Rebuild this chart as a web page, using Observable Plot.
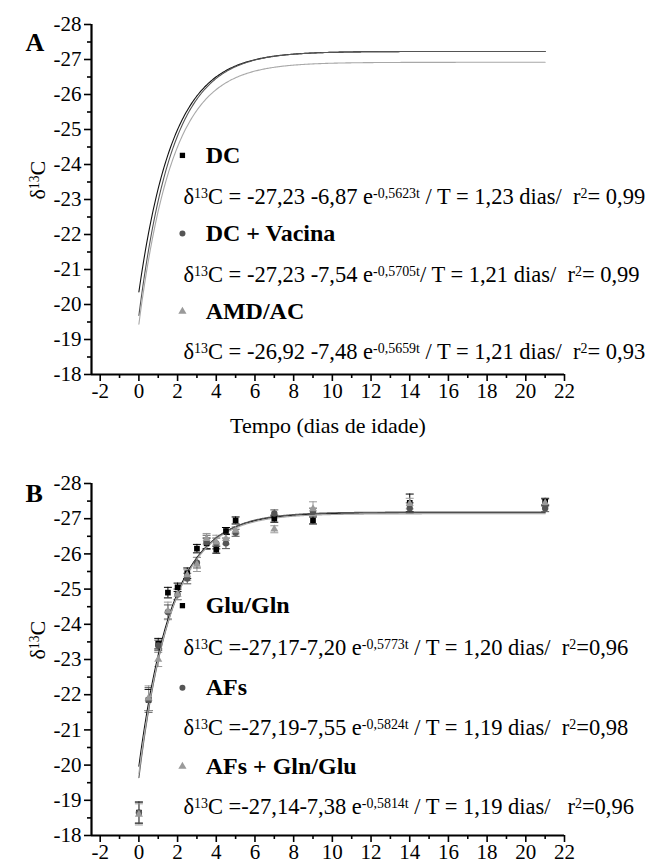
<!DOCTYPE html>
<html>
<head>
<meta charset="utf-8">
<script src="https://cdn.jsdelivr.net/npm/d3@7"></script>
<script src="https://cdn.jsdelivr.net/npm/@observablehq/plot@0.6"></script>
<style>
  html, body { margin: 0; padding: 0; background: #fff; }
  #chart { width: 661px; }
  svg text { white-space: pre; }
</style>
</head>
<body>
<div id="chart"></div>
<script>
// ---------- shared axis data ----------
const xDomain = [-2.45, 22];
const yDomain = [-18, -28];
const xMajor = [-2, 0, 2, 4, 6, 8, 10, 12, 14, 16, 18, 20, 22];
const xMinor = [-1, 1, 3, 5, 7, 9, 11, 13, 15, 17, 19, 21];
const yMajor = [-28, -27, -26, -25, -24, -23, -22, -21, -20, -19, -18];
const yMinor = [-27.5, -26.5, -25.5, -24.5, -23.5, -22.5, -21.5, -20.5, -19.5, -18.5];

// ---------- panel A: fitted curves ----------
const seriesA = ["DC", "DC + Vacina", "AMD/AC"];
const asymA = [-27.23, -27.23, -26.92];
const ampA = [6.87, 7.54, 7.48];
const rateA = [0.5623, 0.5705, 0.5659];
const eqA = [
  "δ^{13}C = -27,23 -6,87 e^{-0,5623t} / T = 1,23 dias/  r^{2}= 0,99",
  "δ^{13}C = -27,23 -7,54 e^{-0,5705t}/ T = 1,21 dias/  r^{2}= 0,99",
  "δ^{13}C = -26,92 -7,48 e^{-0,5659t} / T = 1,21 dias/  r^{2}= 0,93"
];
const legendYA = [-24.26, -22.03, -19.8];
const eqYA = [-23.09, -20.86, -18.66];

// ---------- panel B: measured points + fitted curves ----------
const seriesB = ["Glu/Gln", "AFs", "AFs + Gln/Glu"];
const days = [0, 0.5, 1, 1.5, 2, 2.5, 3, 3.5, 4, 4.5, 5, 7, 9, 14, 21];
const gluGln = [-18.65, -21.85, -23.45, -24.9, -25.05, -25.45, -26.15, -26.3, -26.12, -26.65, -26.95, -27.0, -26.95, -27.45, -27.48];
const afs = [-18.65, -21.85, -23.4, -24.35, -24.85, -25.3, -25.75, -26.33, -26.3, -26.3, -26.6, -27.15, -27.2, -27.3, -27.3];
const afsGln = [-18.6, -21.9, -23.0, -24.38, -24.85, -25.4, -25.7, -26.43, -26.33, -26.43, -26.67, -26.7, -27.28, -27.43, -27.45];
const errGluGln = [0.3, 0.3, 0.15, 0.15, 0.12, 0.15, 0.12, 0.15, 0.1, 0.1, 0.1, 0.1, 0.1, 0.25, 0.1];
const errAfs = [0.3, 0.35, 0.15, 0.2, 0.15, 0.15, 0.15, 0.2, 0.15, 0.15, 0.1, 0.1, 0.1, 0.15, 0.1];
const errAfsGln = [0.3, 0.35, 0.2, 0.25, 0.15, 0.15, 0.2, 0.15, 0.2, 0.15, 0.1, 0.1, 0.2, 0.15, 0.1];
const asymB = [-27.17, -27.19, -27.14];
const ampB = [7.20, 7.55, 7.38];
const rateB = [0.5773, 0.5824, 0.5814];
const eqB = [
  "δ^{13}C =-27,17-7,20 e^{-0,5773t} / T = 1,20 dias/  r^{2}=0,96",
  "δ^{13}C =-27,19-7,55 e^{-0,5824t} / T = 1,19 dias/  r^{2}=0,98",
  "δ^{13}C =-27,14-7,38 e^{-0,5814t} / T = 1,19 dias/   r^{2}=0,96"
];
const legendYB = [-24.53, -22.2, -19.96];
const eqYB = [-23.34, -21.07, -18.82];

// ---------- styles ----------
const colors = ["#000000", "#555555", "#9a9a9a"];
const lineColors = ["#111111", "#555555", "#a8a8a8"];
const symbols = ["square", "circle", "triangle"];
const FONT = "'Liberation Serif', 'Times New Roman', serif";

const capSymbol = {
  draw(ctx, size) {
    const w = Math.sqrt(size) / 2;
    ctx.moveTo(-w, 0);
    ctx.lineTo(w, 0);
  }
};

function curveData(asym, amp, rate, names) {
  const out = [];
  const tMax = 21;
  for (let s = 0; s < names.length; s++) {
    for (let i = 0; i <= 420; i++) {
      const t = (i / 420) * tMax;
      out.push({series: names[s], t, v: asym[s] + amp[s] * Math.exp(-rate[s] * t)});
    }
  }
  return out;
}

function baseMarks() {
  return [
    Plot.ruleX([xDomain[0]], {y1: yDomain[1], y2: yDomain[0], stroke: "#000", strokeWidth: 2.2}),
    Plot.ruleY([yDomain[0]], {x1: xDomain[0], x2: xDomain[1], stroke: "#000", strokeWidth: 2.2}),
    Plot.axisY({ticks: yMajor, tickSize: 7, tickPadding: 3, tickFormat: d => String(d), strokeWidth: 1.6, label: null, fontSize: 21}),
    Plot.axisY({ticks: yMinor, tickSize: 4, tickFormat: () => "", strokeWidth: 1.6, label: null}),
    Plot.axisX({ticks: xMajor, tickSize: 7, tickPadding: 2, tickFormat: d => String(d), strokeWidth: 1.6, label: null, fontSize: 21}),
    Plot.axisX({ticks: xMinor, tickSize: 4, tickFormat: () => "", strokeWidth: 1.6, label: null})
  ];
}

function legendMarks(names, legendY, eqs, eqY) {
  const leg = names.map((n, i) => ({n, i, y: legendY[i], eq: eqs[i], ey: eqY[i]}));
  return [
    Plot.dot(leg, {x: 2.25, y: "y", symbol: d => symbols[d.i], fill: d => colors[d.i], r: d => d.i === 2 ? 4.3 : 4.2, stroke: "none"}),
    Plot.text(leg, {x: 3.45, y: "y", text: "n", textAnchor: "start", fontWeight: "bold", fontSize: 24, fill: "#000"}),
    Plot.text(leg, {x: 2.3, y: "ey", text: "eq", textAnchor: "start", fontSize: 22.5, fill: "#000"})
  ];
}

function ylabel() {
  return Plot.text(["δ^{13}C"], {frameAnchor: "left", rotate: -90, dx: -54, fontSize: 22, text: d => d, fill: "#000"});
}

function fixSupers(svg) {
  svg.querySelectorAll("text").forEach(t => {
    if (t.querySelector("tspan")) {
      t.querySelectorAll("tspan").forEach(ts => { if (ts.textContent.includes("^{")) rebuild(ts); });
    } else if (t.textContent.includes("^{")) rebuild(t);
  });
  function rebuild(el) {
    const parts = el.textContent.split(/\^\{([^}]*)\}/);
    el.textContent = "";
    const ns = "http://www.w3.org/2000/svg";
    parts.forEach((p, k) => {
      if (p === "") return;
      const ts = document.createElementNS(ns, "tspan");
      ts.textContent = p;
      if (k % 2 === 1) {
        ts.setAttribute("baseline-shift", "45%");
        ts.setAttribute("font-size", "62%");
      }
      el.appendChild(ts);
    });
  }
}

// ---------- Panel A ----------
const curvesA = curveData(asymA, ampA, rateA, seriesA);
const plotA = Plot.plot({
  width: 661,
  height: 450,
  marginTop: 24,
  marginBottom: 76,
  marginLeft: 91,
  marginRight: 97,
  style: {fontFamily: FONT, fontSize: "21px", color: "#000", background: "#fff", overflow: "visible"},
  x: {domain: xDomain},
  y: {domain: yDomain},
  marks: [
    ...baseMarks(),
    Plot.line(curvesA, {x: "t", y: "v", z: "series", stroke: d => lineColors[seriesA.indexOf(d.series)], strokeWidth: 1.1}),
    ...legendMarks(seriesA, legendYA, eqA, eqYA),
    ylabel(),
    Plot.text(["Tempo (dias de idade)"], {frameAnchor: "bottom", dy: 58, fontSize: 22, text: d => d, fill: "#000"}),
    Plot.text(["A"], {frameAnchor: "top-left", dx: -66, dy: 8, fontSize: 26, fontWeight: "bold", text: d => d, fill: "#000"})
  ]
});
fixSupers(plotA);

// ---------- Panel B ----------
const curvesB = curveData(asymB, ampB, rateB, seriesB);
const valuesB = [gluGln, afs, afsGln];
const errsB = [errGluGln, errAfs, errAfsGln];
const pts = [];
for (let s = 0; s < 3; s++) {
  days.forEach((t, i) => pts.push({s, t, v: valuesB[s][i], lo: valuesB[s][i] - errsB[s][i], hi: valuesB[s][i] + errsB[s][i]}));
}
const plotB = Plot.plot({
  width: 661,
  height: 418,
  marginTop: 33,
  marginBottom: 33,
  marginLeft: 91,
  marginRight: 97,
  style: {fontFamily: FONT, fontSize: "21px", color: "#000", background: "#fff", overflow: "visible"},
  x: {domain: xDomain},
  y: {domain: yDomain},
  marks: [
    ...baseMarks(),
    Plot.ruleX(pts, {x: "t", y1: "lo", y2: "hi", stroke: d => colors[d.s], strokeWidth: 1}),
    Plot.dot(pts, {x: "t", y: "lo", symbol: capSymbol, r: 4.5, stroke: d => colors[d.s], strokeWidth: 1}),
    Plot.dot(pts, {x: "t", y: "hi", symbol: capSymbol, r: 4.5, stroke: d => colors[d.s], strokeWidth: 1}),
    Plot.line(curvesB, {x: "t", y: "v", z: "series", stroke: d => lineColors[seriesB.indexOf(d.series)], strokeWidth: 1.1}),
    Plot.dot(pts, {x: "t", y: "v", symbol: d => symbols[d.s], fill: d => colors[d.s], r: d => d.s === 2 ? 4.2 : 4.8, stroke: "none"}),
    ...legendMarks(seriesB, legendYB, eqB, eqYB),
    ylabel(),
    Plot.text(["B"], {frameAnchor: "top-left", dx: -66, dy: 0, fontSize: 26, fontWeight: "bold", text: d => d, fill: "#000"})
  ]
});
fixSupers(plotB);

const root = document.getElementById("chart");
root.appendChild(plotA);
root.appendChild(plotB);
</script>
</body>
</html>
